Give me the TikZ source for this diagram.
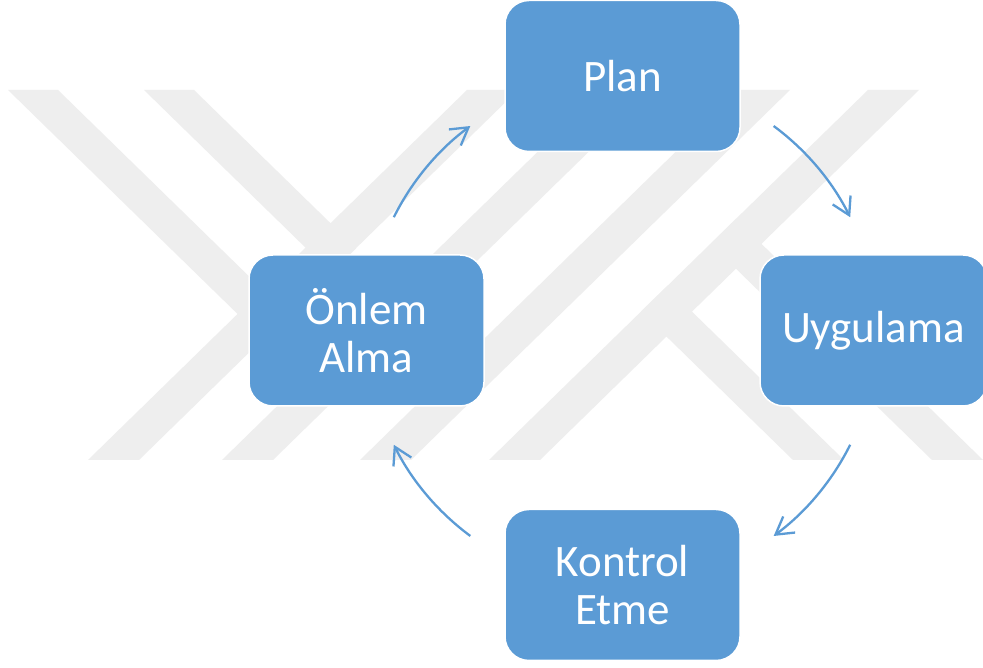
\documentclass[tikz,border=0pt]{standalone}
\usepackage{fontspec}
\setmainfont{Carlito}
\usetikzlibrary{arrows.meta}
\definecolor{boxblue}{HTML}{5B9BD5}
\definecolor{markgray}{HTML}{EEEEEE}

\begin{document}
\begin{tikzpicture}[x=1pt,y=1pt,
  stepbox/.style={draw=white, line width=1.5pt, fill=boxblue,
    rounded corners=24pt, minimum width=235pt, minimum height=151pt,
    text=white, align=center, inner sep=0pt,
    font=\fontsize{45}{48}\selectfont},
  cyclearrow/.style={draw=boxblue, line width=2.3pt,
    -{Straight Barb[length=17pt,width=20pt]}},
  band/.style={fill=markgray, draw=none}]

% page
\fill[white] (0,0) rectangle (983,668);
\useasboundingbox (0,0) rectangle (983,668);

% faint logo in the background: slanted bands
\fill[band] (88,208) -- (139,208) -- (518,578) -- (467,578) -- cycle;
\fill[band] (222,208) -- (273,208) -- (652,578) -- (601,578) -- cycle;
\fill[band] (360,208) -- (411,208) -- (790,578) -- (739,578) -- cycle;
\fill[band] (489,208) -- (540,208) -- (919,578) -- (868,578) -- cycle;
\fill[band] (8,578) -- (58,578) -- (288.1,353.5) -- (263.1,329.1) -- cycle;
\fill[band] (144,578) -- (194,578) -- (356.1,419.8) -- (331.1,395.4) -- cycle;
\fill[band] (793,208) -- (844,208) -- (666.5,381.2) -- (641,356.3) -- cycle;
\fill[band] (932,208) -- (983,208) -- (736,449) -- (710.5,424.1) -- cycle;

% the four steps of the cycle
\node[stepbox] (plan) at (622.5,592) {Plan};
\node[stepbox, minimum width=227pt] (uyg) at (873.5,337.5) {Uygulama};
\node[stepbox] (kontrol) at (622.5,83) {Kontrol\\Etme};
\node[stepbox] (onlem) at (366.5,337.5) {Önlem\\Alma};

% curved arrows on a common circle around the hub
\coordinate (hub) at (622,337);
\draw[cyclearrow] ([shift={(153.5:255pt)}]hub) arc[start angle=153.5, end angle=126.5, radius=255pt];
\draw[cyclearrow] ([shift={(53.5:255pt)}]hub) arc[start angle=53.5, end angle=26.5, radius=255pt];
\draw[cyclearrow] ([shift={(-26.5:255pt)}]hub) arc[start angle=-26.5, end angle=-53.5, radius=255pt];
\draw[cyclearrow] ([shift={(-126.5:255pt)}]hub) arc[start angle=-126.5, end angle=-153.5, radius=255pt];
\end{tikzpicture}
\end{document}
